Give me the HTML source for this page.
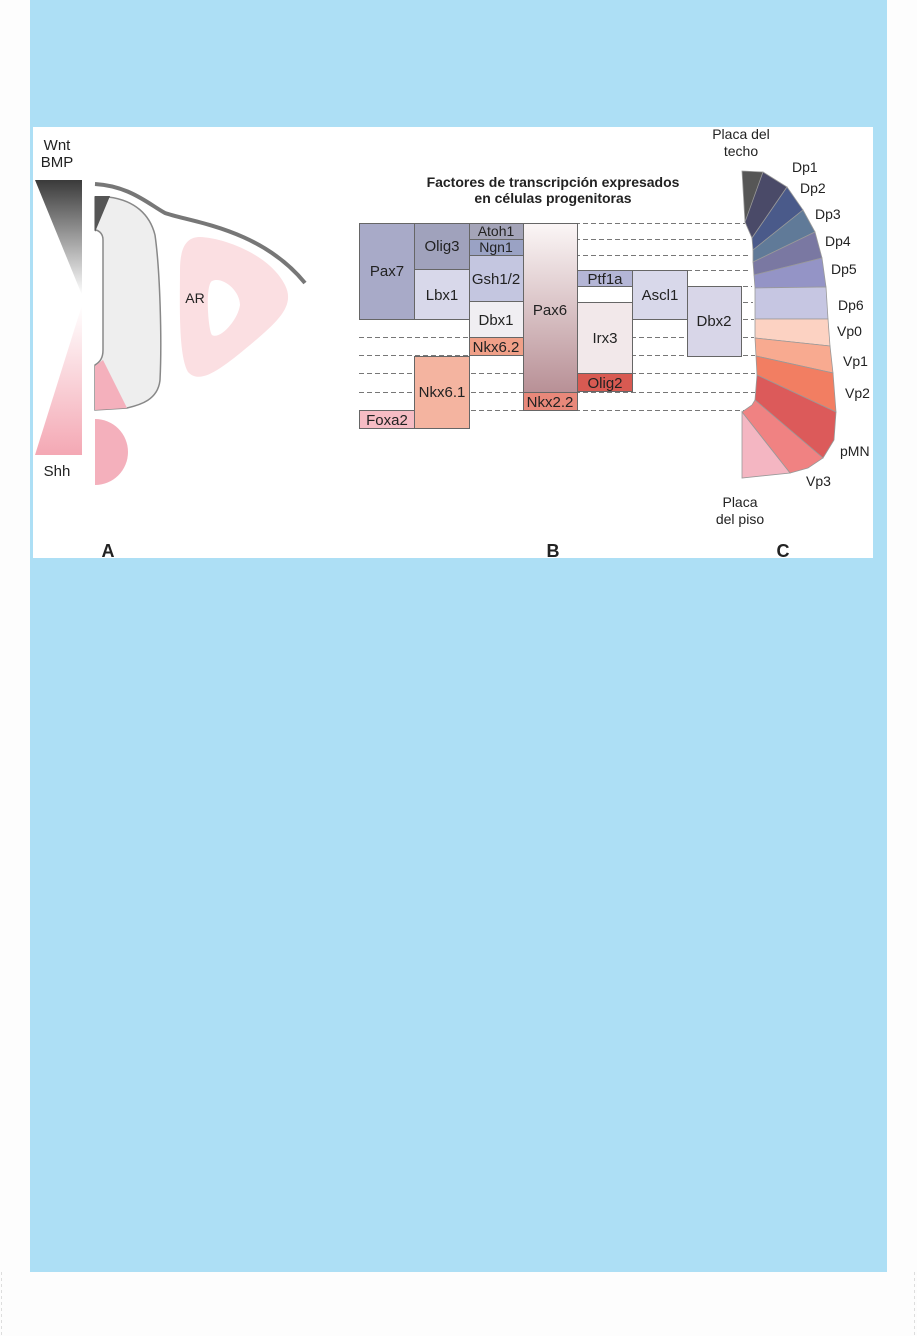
<!DOCTYPE html>
<html><head><meta charset="utf-8"><style>
html,body{margin:0;padding:0;background:#fdfdfd;width:917px;height:1336px;overflow:hidden}
svg{display:block}
text{font-family:"Liberation Sans",Arial,sans-serif;fill:#222}
</style></head><body>
<svg width="917" height="1336" viewBox="0 0 917 1336" xmlns="http://www.w3.org/2000/svg">
<defs>
<linearGradient id="gw" x1="0" y1="0" x2="0" y2="1"><stop offset="0" stop-color="#3a3a3a"/><stop offset="1" stop-color="#fff"/></linearGradient>
<linearGradient id="gs" x1="0" y1="0" x2="0" y2="1"><stop offset="0" stop-color="#fff"/><stop offset="1" stop-color="#f4a8b4"/></linearGradient>
<linearGradient id="gp" x1="0" y1="0" x2="0" y2="1"><stop offset="0" stop-color="#fbf6f6"/><stop offset="1" stop-color="#b89096"/></linearGradient>
</defs>
<rect x="0" y="0" width="917" height="1336" fill="#fdfdfd"/>
<line x1="1.5" y1="1272" x2="1.5" y2="1336" stroke="#ddd" stroke-dasharray="3,3"/>
<line x1="914.5" y1="1272" x2="914.5" y2="1336" stroke="#ddd" stroke-dasharray="3,3"/>
<rect x="30" y="0" width="857" height="1272" fill="#addff5"/>
<rect x="33" y="127" width="840" height="431" fill="#fff"/>

<!-- Panel A -->
<text x="57" y="150" font-size="15" text-anchor="middle">Wnt</text>
<text x="57" y="167" font-size="15" text-anchor="middle">BMP</text>
<polygon points="35,180 82,180 82,295" fill="url(#gw)"/>
<polygon points="82,305 82,455 35,455" fill="url(#gs)"/>
<text x="57" y="476" font-size="15" text-anchor="middle">Shh</text>
<path d="M95,184 C130,186 150,205 165,213 C190,222 260,228 305,283" fill="none" stroke="#777" stroke-width="4"/>
<path d="M95,197 L108,197 C135,200 150,215 155,235 C160,270 162,340 160,380 C158,400 140,405 127,408 L95,410 L95,365 C100,362 103,358 103,350 L103,240 C103,232 97,230 95,230 Z" fill="#eee" stroke="#888" stroke-width="1.5"/>
<polygon points="95,196 110,196 95,232" fill="#555"/>
<polygon points="95,366 103,360 127,408 95,410" fill="#f4b0bc"/>
<path d="M95,419 A32,32 0 0 1 95,485 Z" fill="#f4b0bc"/>
<path d="M200,237 C225,238 270,255 285,285 C295,305 280,320 250,345 C220,370 200,385 188,372 C178,355 180,300 180,270 C180,245 188,237 200,237 Z M212,281 C205,285 208,330 212,335 C220,340 238,320 240,305 C240,290 222,276 212,281 Z" fill="#fbdfe2" fill-rule="evenodd"/>
<text x="195" y="303" font-size="14" text-anchor="middle">AR</text>
<text x="108" y="557" font-size="18" font-weight="bold" text-anchor="middle">A</text>

<!-- Panel B -->
<text x="553" y="187" font-size="14" font-weight="bold" text-anchor="middle">Factores de transcripción expresados</text>
<text x="553" y="203" font-size="14" font-weight="bold" text-anchor="middle">en células progenitoras</text>
<g stroke="#777" stroke-dasharray="5,3" stroke-width="1">
<line x1="359" y1="223.5" x2="745" y2="223.5"/><line x1="359" y1="239.5" x2="746" y2="239.5"/>
<line x1="359" y1="255.5" x2="748" y2="255.5"/><line x1="359" y1="270.5" x2="750" y2="270.5"/>
<line x1="359" y1="286.5" x2="752" y2="286.5"/><line x1="359" y1="302.5" x2="753" y2="302.5"/>
<line x1="359" y1="319.5" x2="754" y2="319.5"/><line x1="359" y1="337.5" x2="754" y2="337.5"/>
<line x1="359" y1="355.5" x2="755" y2="355.5"/><line x1="359" y1="373.5" x2="755" y2="373.5"/>
<line x1="359" y1="392.5" x2="755" y2="392.5"/><line x1="359" y1="410.5" x2="745" y2="410.5"/>
</g>
<g stroke="#666" stroke-width="1">
<rect x="359.5" y="223.5" width="55" height="96" fill="#a8aac8"/>
<rect x="414.5" y="223.5" width="55" height="46" fill="#a0a2bc"/>
<rect x="414.5" y="269.5" width="55" height="50" fill="#d8d8ea"/>
<rect x="469.5" y="223.5" width="54" height="16" fill="#a4a4b8"/>
<rect x="469.5" y="239.5" width="54" height="16" fill="#9aa2c4"/>
<rect x="469.5" y="255.5" width="54" height="46" fill="#c4c6e0"/>
<rect x="469.5" y="301.5" width="54" height="36" fill="#f0eef2"/>
<rect x="469.5" y="337.5" width="54" height="18" fill="#f0a088"/>
<rect x="523.5" y="223.5" width="54" height="169" fill="url(#gp)"/>
<rect x="523.5" y="392.5" width="54" height="18" fill="#e8887a"/>
<rect x="577.5" y="270.5" width="55" height="16" fill="#b4b6d6"/>
<rect x="577.5" y="302.5" width="55" height="71" fill="#f2e8ea"/>
<rect x="577.5" y="373.5" width="55" height="18" fill="#d85a52"/>
<rect x="632.5" y="270.5" width="55" height="49" fill="#d8d8ea"/>
<rect x="687.5" y="286.5" width="54" height="70" fill="#d8d6e8"/>
<rect x="414.5" y="356.5" width="55" height="72" fill="#f4b4a0"/>
<rect x="359.5" y="410.5" width="55" height="18" fill="#f6bcc4"/>
</g>
<g font-size="15" text-anchor="middle">
<text x="387" y="276">Pax7</text><text x="442" y="251">Olig3</text><text x="442" y="300">Lbx1</text>
<text x="496" y="236" font-size="14">Atoh1</text><text x="496" y="252" font-size="14">Ngn1</text>
<text x="496" y="284">Gsh1/2</text><text x="496" y="325">Dbx1</text><text x="496" y="352">Nkx6.2</text>
<text x="550" y="315">Pax6</text><text x="550" y="407">Nkx2.2</text>
<text x="605" y="284">Ptf1a</text><text x="605" y="343">Irx3</text><text x="605" y="388">Olig2</text>
<text x="660" y="300">Ascl1</text><text x="714" y="326">Dbx2</text>
<text x="442" y="397">Nkx6.1</text><text x="387" y="425">Foxa2</text>
</g>
<text x="553" y="557" font-size="18" font-weight="bold" text-anchor="middle">B</text>

<!-- Panel C -->
<g stroke="#999" stroke-width="0.8">
<polygon points="742,171 763,172 748,220 745,222" fill="#565656"/>
<polygon points="745,222 763,172 787,187 752,238" fill="#4a4a68"/>
<polygon points="752,238 787,187 803,210 753,250" fill="#4a5a8a"/>
<polygon points="753,250 803,210 815,232 753,262" fill="#607a98"/>
<polygon points="753,262 815,232 822,258 754,275" fill="#7a78a2"/>
<polygon points="754,275 822,258 826,287 755,288" fill="#9494c6"/>
<polygon points="755,288 826,287 828,319 755,319" fill="#c6c6e2"/>
<polygon points="755,319 828,319 830,346 755,338" fill="#fcd2c2"/>
<polygon points="755,338 830,346 833,373 756,356" fill="#f8aa90"/>
<polygon points="756,356 833,373 836,412 757,375" fill="#f27e62"/>
<polygon points="757,375 836,412 834,440 823,458 755,400" fill="#dc5a5a"/>
<polygon points="755,400 823,458 808,468 790,473 742,412 752,405" fill="#f08282"/>
<polygon points="742,412 790,473 742,478" fill="#f4b6c2"/>
</g>
<text x="741" y="139" font-size="14" text-anchor="middle">Placa del</text>
<text x="741" y="156" font-size="14" text-anchor="middle">techo</text>
<g font-size="14">
<text x="792" y="172">Dp1</text><text x="800" y="193">Dp2</text><text x="815" y="219">Dp3</text>
<text x="825" y="246">Dp4</text><text x="831" y="274">Dp5</text><text x="838" y="310">Dp6</text>
<text x="837" y="336">Vp0</text><text x="843" y="366">Vp1</text><text x="845" y="398">Vp2</text>
<text x="840" y="456">pMN</text><text x="806" y="486">Vp3</text>
</g>
<text x="740" y="507" font-size="14" text-anchor="middle">Placa</text>
<text x="740" y="524" font-size="14" text-anchor="middle">del piso</text>
<text x="783" y="557" font-size="18" font-weight="bold" text-anchor="middle">C</text>
</svg>
</body></html>
